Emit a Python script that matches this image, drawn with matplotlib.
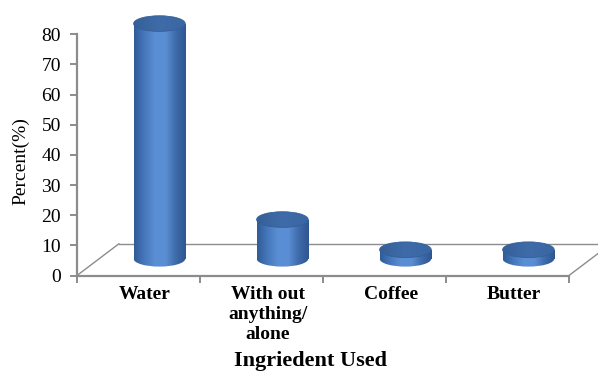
import numpy as np
import matplotlib
matplotlib.use("Agg")
import matplotlib.pyplot as plt
from matplotlib.patches import Rectangle, Ellipse
from matplotlib.colors import LinearSegmentedColormap

categories = ["Water", "With out\nanything/\nalone", "Coffee", "Butter"]
percent = [78, 13, 3, 3]
yticks = [0, 10, 20, 30, 40, 50, 60, 70, 80]

plt.rcParams["font.family"] = ["Liberation Serif", "DejaVu Serif"]

fig = plt.figure(figsize=(5.98, 3.71), dpi=100)
ax = fig.add_axes([77 / 598, 95.5 / 371, 521 / 598, 275.5 / 371])
ax.set_xlim(0, 521 / 123)
ax.set_ylim(0, 275.5 / 3.015)

# floor depth (x in category units, y in percent units)
dx, dy = 0.34, 10.5
n = len(categories)
grey = "#8c8c8c"

# floor outline
ax.plot([0, dx], [0, dy], color=grey, lw=1.0, zorder=1)
ax.plot([dx, n + dx + 0.5], [dy, dy], color=grey, lw=1.0, zorder=1)
ax.plot([n, n + dx], [0, dy], color=grey, lw=1.0, zorder=1)

# cylinder shading
body_cmap = LinearSegmentedColormap.from_list(
    "body", ["#305c97", "#4577bb", "#5a8ed4", "#5b8fd5", "#3f6caa", "#2e5792"])
top_cmap = LinearSegmentedColormap.from_list(
    "top", ["#355f98", "#3f6ca9", "#3a66a2"])
grad = np.linspace(0, 1, 256).reshape(1, -1)

w = 0.42
eh = 5.2
base = dy / 2 + 0.3
for i, v in enumerate(percent):
    cx = i + 0.5 + dx / 2
    top = base + v
    left, right = cx - w / 2, cx + w / 2
    body = Rectangle((left, base), w, v, transform=ax.transData,
                     facecolor="none", edgecolor="none")
    bottom = Ellipse((cx, base), w, eh, transform=ax.transData,
                     facecolor="none", edgecolor="none")
    for clip in (body, bottom):
        ax.add_patch(clip)
        im = ax.imshow(grad, cmap=body_cmap, aspect="auto",
                       extent=[left, right, base - eh, top], zorder=3)
        im.set_clip_path(clip)
    cap = Ellipse((cx, top), w, eh, facecolor="none", edgecolor="#33609a",
                  lw=0.6, zorder=5)
    ax.add_patch(cap)
    im = ax.imshow(grad, cmap=top_cmap, aspect="auto",
                   extent=[left, right, top - eh / 2, top + eh / 2], zorder=4)
    im.set_clip_path(cap)

# axes
for side in ("top", "right"):
    ax.spines[side].set_visible(False)
ax.spines["left"].set_bounds(0, 80)
ax.spines["bottom"].set_bounds(0, n)
for side in ("left", "bottom"):
    ax.spines[side].set_color(grey)
    ax.spines[side].set_linewidth(1.6)

ax.set_yticks(yticks)
ax.set_yticklabels([str(t) for t in yticks], fontsize=14)
ax.tick_params(axis="y", length=5, width=1.4, color=grey, pad=6.5)

ax.set_xticks(np.arange(n + 1))
ax.set_xticklabels([])
ax.tick_params(axis="x", which="major", length=5, width=1.4, color=grey)
ax.set_xticks(np.arange(n) + 0.55, minor=True)
ax.set_xticklabels(categories, minor=True, fontsize=14, fontweight="bold",
                   linespacing=1.22)
ax.tick_params(axis="x", which="minor", length=0, pad=7.5)

fig.text(21 / 598, 1 - 161 / 371, "Percent(%)", fontsize=14, rotation=90,
         ha="center", va="center")
fig.text(311 / 598, 5 / 371, "Ingriedent Used", fontsize=16,
         fontweight="bold", ha="center", va="baseline")

fig.savefig("out.png", dpi=100)
